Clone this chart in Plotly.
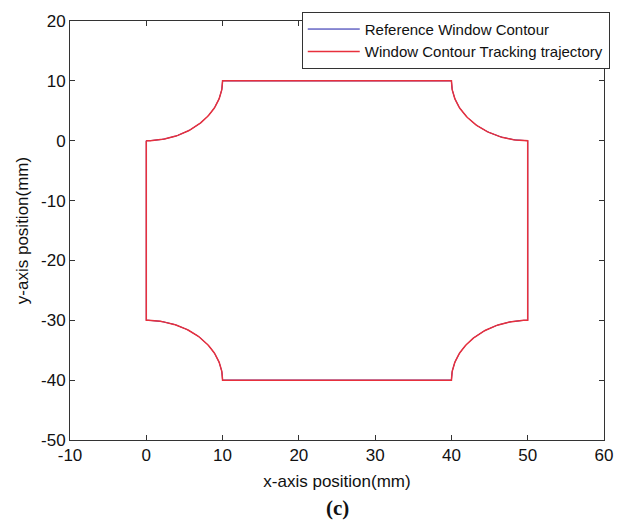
import numpy as np
import plotly.graph_objects as go

# Window contour: straight edges joined by concave quarter-circle corners
corner_start = [(0, -30), (40, -40), (50, 0), (10, 10)]   # where each arc begins
corner_end = [(10, -40), (50, -30), (40, 10), (0, 0)]     # where each arc ends
corner_center = [(0, -40), (50, -40), (50, 10), (0, 10)]  # arc centres
arc_radius = 10

x_ticks = [-10, 0, 10, 20, 30, 40, 50, 60]
y_ticks = [-50, -40, -30, -20, -10, 0, 10, 20]
x_tick_text = ["-10", "0", "10", "20", "30", "40", "50", "60"]
y_tick_text = ["-50", "-40", "-30", "-20", "-10", "0", "10", "20"]

FONT = "Liberation Sans"


def contour_path(n=60):
    xs, ys = [0.0], [0.0]
    for (sx, sy), (ex, ey), (cx, cy) in zip(corner_start, corner_end, corner_center):
        xs.append(sx)
        ys.append(sy)
        a0 = np.arctan2(sy - cy, sx - cx)
        a1 = np.arctan2(ey - cy, ex - cx)
        # take the short way round
        d = (a1 - a0 + np.pi) % (2 * np.pi) - np.pi
        t = np.linspace(a0, a0 + d, n)
        xs.extend(cx + arc_radius * np.cos(t))
        ys.extend(cy + arc_radius * np.sin(t))
    return xs, ys


ref_x, ref_y = contour_path()
trk_x, trk_y = contour_path()

fig = go.Figure()
fig.add_trace(go.Scatter(x=ref_x, y=ref_y, mode="lines",
                         line=dict(color="#1a1aa8", width=1.0),
                         name="Reference Window Contour"))
fig.add_trace(go.Scatter(x=trk_x, y=trk_y, mode="lines",
                         line=dict(color="#e8303c", width=1.5),
                         name="Window Contour Tracking trajectory"))

axis_common = dict(showline=True, linecolor="#333333", linewidth=1,
                   mirror="ticks", ticks="inside", ticklen=5,
                   tickcolor="#333333", showgrid=False, zeroline=False,
                   tickfont=dict(family=FONT, size=17, color="#111111"),
                   title_font=dict(family=FONT, size=17, color="#111111"))

fig.update_xaxes(range=[-10, 60], tickvals=x_ticks, ticktext=x_tick_text,
                 title_text="x-axis position(mm)", title_standoff=10, **axis_common)
fig.update_yaxes(range=[-50, 20], tickvals=y_ticks, ticktext=y_tick_text,
                 title_text="y-axis position(mm)", title_standoff=8, **axis_common)

fig.add_annotation(text="<b>(c)</b>", xref="paper", yref="paper", x=0.5, y=-0.128,
                   showarrow=False, yanchor="top",
                   font=dict(family="Liberation Serif", size=21, color="#111111"))

fig.update_layout(
    width=630, height=528,
    margin=dict(l=70, r=26, t=17, b=88),
    paper_bgcolor="white", plot_bgcolor="white",
    legend=dict(x=0.434, y=1.022, xanchor="left", yanchor="top",
                bgcolor="white", bordercolor="#333333", borderwidth=1,
                font=dict(family=FONT, size=15, color="#111111"),
                tracegroupgap=0, itemwidth=52),
)

fig.write_html("out.html")
